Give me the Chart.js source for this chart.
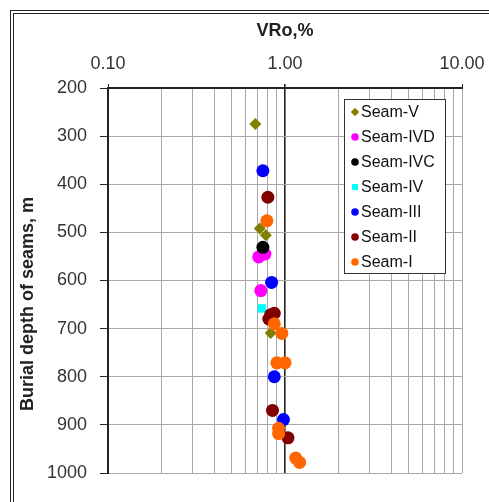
<!DOCTYPE html>
<html>
<head>
<meta charset="utf-8">
<script src="https://cdn.jsdelivr.net/npm/chart.js@4/dist/chart.umd.min.js"></script>
<style>
  html, body { margin: 0; padding: 0; width: 489px; height: 502px; overflow: hidden; background: #fff; }
  #frame { position: absolute; left: 10px; top: 10px; width: 700px; height: 700px; border: 4px double #222; }
  #chart { position: absolute; left: 0; top: 0; }
</style>
</head>
<body>
<div id="frame"></div>
<canvas id="chart" width="489" height="502"></canvas>
<script>
// seams, in legend order
const seamNames = ['Seam-V', 'Seam-IVD', 'Seam-IVC', 'Seam-IV', 'Seam-III', 'Seam-II', 'Seam-I'];

// VRo (%) and burial depth (m) per seam
const vroV   = [0.68, 0.72, 0.78, 0.83];
const depthV = [275, 492, 506, 709];
const vroIVD   = [0.71, 0.77, 0.73];
const depthIVD = [551, 545, 621];
const vroIVC   = [0.75];
const depthIVC = [531];
const vroIV   = [0.74];
const depthIV = [658];
const vroIII   = [0.75, 0.84, 0.87, 0.98];
const depthIII = [372, 604, 800, 889];
const vroII   = [0.80, 0.83, 0.87, 0.81, 0.85, 1.04];
const depthII = [427, 671, 668, 680, 870, 927];
const vroI   = [0.79, 0.87, 0.96, 0.90, 1.00, 0.92, 0.92, 1.15, 1.21];
const depthI = [476, 690, 710, 771, 771, 907, 918, 969, 978];

const seamVro   = [vroV, vroIVD, vroIVC, vroIV, vroIII, vroII, vroI];
const seamDepth = [depthV, depthIVD, depthIVC, depthIV, depthIII, depthII, depthI];

// axis ticks
const xTickValues = [0.1, 0.2, 0.3, 0.4, 0.5, 0.6, 0.7, 0.8, 0.9, 1, 2, 3, 4, 5, 6, 7, 8, 9, 10];
const xTickLabels = [0.1, 1, 10];
const yTitle = 'Burial depth of seams, m';

// styles
const seamColors = ['#808000', '#ff00ff', '#000000', '#00ffff', '#0000ff', '#800000', '#ff6600'];
const seamShapes = ['rectRot', 'circle', 'circle', 'rect', 'circle', 'circle', 'circle'];
const FONT = "'Liberation Sans', Arial, sans-serif";

const datasets = seamNames.map((name, i) => ({
  label: name,
  data: seamVro[i].map((v, j) => ({ x: v, y: seamDepth[i][j] })),
  pointStyle: seamShapes[i],
  pointRadius: seamShapes[i] === 'circle' ? 6.5 : 6,
  pointBackgroundColor: seamColors[i],
  pointBorderColor: seamColors[i],
  pointBorderWidth: 0,
  showLine: false,
  order: seamNames.length - i   // Seam-I on top
}));

// legend box inside the plot + y axis title
const extras = {
  id: 'extras',
  afterDraw(chart) {
    const ctx = chart.ctx;
    const left = 344, top = 99, w = 101, h = 174;
    ctx.save();
    ctx.fillStyle = '#fff';
    ctx.fillRect(left, top, w, h);
    ctx.strokeStyle = '#333';
    ctx.lineWidth = 1;
    ctx.strokeRect(left + 0.5, top + 0.5, w, h);
    ctx.font = '16px ' + FONT;
    ctx.textBaseline = 'middle';
    seamNames.forEach((name, i) => {
      const y = 112 + i * 25;
      const shape = seamShapes[i];
      ctx.fillStyle = seamColors[i];
      ctx.strokeStyle = seamColors[i];
      Chart.helpers.drawPoint(ctx, { pointStyle: shape, radius: shape === 'circle' ? 3.8 : 4.2, borderWidth: 0 }, 355, y);
      ctx.fillStyle = '#111';
      ctx.fillText(name, 361, y + 1);
    });
    ctx.restore();

    ctx.save();
    ctx.translate(28, 304);
    ctx.rotate(-Math.PI / 2);
    ctx.font = 'bold 18px ' + FONT;
    ctx.fillStyle = '#222';
    ctx.textAlign = 'center';
    ctx.textBaseline = 'middle';
    ctx.fillText(yTitle, 0, 0);
    ctx.restore();
  }
};

new Chart(document.getElementById('chart'), {
  type: 'scatter',
  data: { datasets },
  plugins: [extras],
  options: {
    responsive: false,
    animation: false,
    layout: { padding: { left: 0, top: 0, right: 27, bottom: 29 } },
    plugins: { legend: { display: false }, tooltip: { enabled: false } },
    scales: {
      x: {
        type: 'logarithmic',
        position: 'top',
        min: 0.1,
        max: 10,
        afterBuildTicks: scale => { scale.ticks = xTickValues.map(v => ({ value: v })); },
        afterFit: scale => { scale.height = 88; scale.paddingLeft = 0; scale.paddingRight = 0; },
        ticks: {
          autoSkip: false,
          maxRotation: 0,
          padding: 9,
          color: '#333',
          font: { family: FONT, size: 18 },
          callback: v => xTickLabels.includes(v) ? v.toFixed(2) : ''
        },
        grid: {
          color: c => (c.tick && c.tick.value === 1) ? '#222' : '#a8a8a8',
          lineWidth: c => (c.tick && c.tick.value === 1) ? 1.6 : 1,
          tickColor: c => (c.tick && xTickLabels.includes(c.tick.value)) ? '#222' : 'rgba(0,0,0,0)',
          tickLength: 4
        },
        border: { color: '#222', width: 2 },
        title: {
          display: true,
          text: 'VRo,%',
          color: '#222',
          font: { family: FONT, size: 18, weight: 'bold' },
          padding: { top: 20, bottom: 0 }
        }
      },
      y: {
        type: 'linear',
        reverse: true,
        min: 200,
        max: 1000,
        afterFit: scale => { scale.width = 108; scale.paddingTop = 0; scale.paddingBottom = 0; },
        ticks: {
          stepSize: 100,
          padding: 13,
          color: '#333',
          font: { family: FONT, size: 18 },
          callback: v => String(v)
        },
        grid: {
          color: '#a8a8a8',
          lineWidth: 1,
          tickColor: '#222',
          tickLength: 8
        },
        border: { color: '#222', width: 2 }
      }
    }
  }
});
</script>
</body>
</html>
